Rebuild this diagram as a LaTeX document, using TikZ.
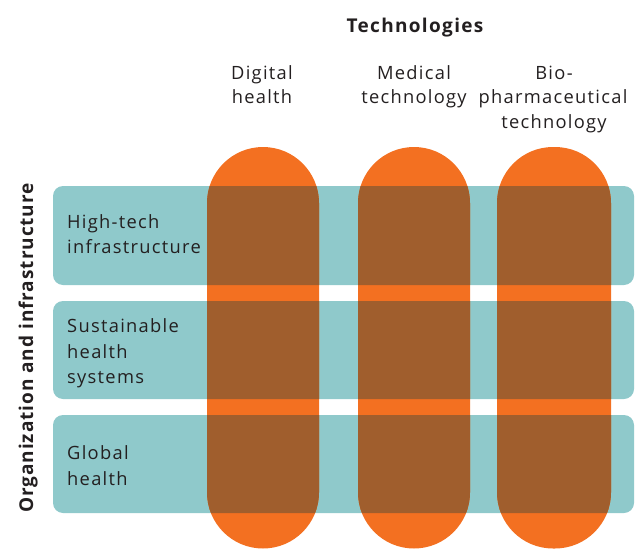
\documentclass[tikz,border=0pt]{standalone}
\usepackage{fontspec}
\setmainfont{Open Sans}
\definecolor{teal}{HTML}{8FC9CB}
\definecolor{orng}{HTML}{F37021}
\definecolor{brwn}{HTML}{A05E2D}
\definecolor{txt}{HTML}{231F20}
\begin{document}
\begin{tikzpicture}[x=1pt,y=-1pt,
  rowbox/.style={fill=teal,rounded corners=10pt},
  pillshape/.style={fill=orng,rounded corners=56pt},
  lbl/.style={inner sep=0pt,text=txt,font=\fontsize{18.3}{24}\selectfont\addfontfeatures{LetterSpace=7}},
  head/.style={inner sep=0pt,text=txt,font=\fontsize{19}{24}\selectfont\bfseries\addfontfeatures{LetterSpace=7}},
  vhead/.style={inner sep=0pt,text=txt,font=\fontsize{19}{24}\selectfont\bfseries\addfontfeatures{LetterSpace=5}}]
\useasboundingbox (0,0) rectangle (638,549);
% rows
\fill[rowbox] (53,186) rectangle (634,285);
\fill[rowbox] (53,301) rectangle (634,399);
\fill[rowbox] (53,415) rectangle (634,513);
% pills
\fill[pillshape] (207,147) rectangle (319,548.5);
\fill[pillshape] (358,147) rectangle (470,548.5);
\fill[pillshape] (497,147) rectangle (611,548.5);
% overlaps
\begin{scope}
  \clip[rounded corners=56pt] (207,147) rectangle (319,548.5)
                              (358,147) rectangle (470,548.5)
                              (497,147) rectangle (611,548.5);
  \fill[brwn,rounded corners=10pt] (53,186) rectangle (634,285);
  \fill[brwn,rounded corners=10pt] (53,301) rectangle (634,399);
  \fill[brwn,rounded corners=10pt] (53,415) rectangle (634,513);
\end{scope}
% headings
\node[head,anchor=base] (tech) at (415,32) {Technologies};
\node[vhead,anchor=base,rotate=90] (org) at (33,348) {Organization and infrastructure};
% column labels
\node[lbl,anchor=base] (c1a) at (262,79) {Digital};
\node[lbl,anchor=base] (c1b) at (262,103) {health};
\node[lbl,anchor=base] (c2a) at (414,79) {Medical};
\node[lbl,anchor=base] (c2b) at (414,103) {technology};
\node[lbl,anchor=base] (c3a) at (554,79) {Bio-};
\node[lbl,anchor=base] (c3b) at (553,103) {pharmaceutical};
\node[lbl,anchor=base] (c3c) at (554,128) {technology};
% row labels
\node[lbl,anchor=base west] (r1a) at (67,228) {High-tech};
\node[lbl,anchor=base west] (r1b) at (67,253) {infrastructure};
\node[lbl,anchor=base west] (r2a) at (67,332) {Sustainable};
\node[lbl,anchor=base west] (r2b) at (67,358) {health};
\node[lbl,anchor=base west] (r2c) at (67,383) {systems};
\node[lbl,anchor=base west] (r3a) at (67,459) {Global};
\node[lbl,anchor=base west] (r3b) at (67,485) {health};
\end{tikzpicture}
\end{document}
